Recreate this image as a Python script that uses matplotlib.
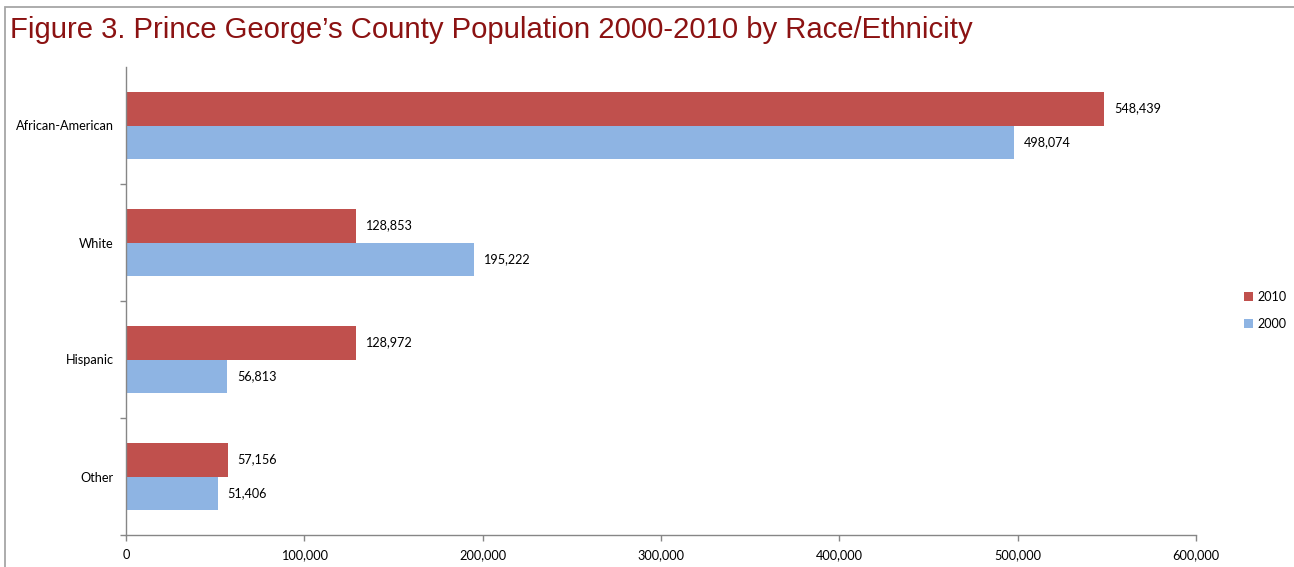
import matplotlib.pyplot as plt
import numpy as np
from matplotlib.patches import Rectangle
from matplotlib.ticker import FuncFormatter

# Population by race/ethnicity, Prince George's County
groups = ["African-American", "White", "Hispanic", "Other"]
pop_2010 = [548439, 128853, 128972, 57156]
pop_2000 = [498074, 195222, 56813, 51406]
x_ticks = [0, 100000, 200000, 300000, 400000, 500000, 600000]

red = "#C0504D"
blue = "#8EB4E3"
axis_gray = "#868686"
label_font = ["Lato", "DejaVu Sans"]

plt.rcParams["font.family"] = label_font

fig = plt.figure(figsize=(12.94, 5.67), dpi=100)
ax = fig.add_axes([126 / 1294, 1 - 535 / 567, 1070 / 1294, 468 / 567])

# Categories run top to bottom
pos = np.arange(len(groups))[::-1].astype(float)
bar_h = 0.288

bars_2010 = ax.barh(pos + bar_h / 2, pop_2010, height=bar_h, color=red, label="2010")
bars_2000 = ax.barh(pos - bar_h / 2, pop_2000, height=bar_h, color=blue, label="2000")

for bars, vals in ((bars_2010, pop_2010), (bars_2000, pop_2000)):
    for b, v in zip(bars, vals):
        ax.annotate(
            f"{v:,}",
            (v, b.get_y() + b.get_height() / 2),
            xytext=(7, 0),
            textcoords="offset points",
            va="center",
            ha="left",
            fontsize=9.1,
        )

ax.set_xlim(0, 600000)
ax.set_ylim(-0.5, len(groups) - 0.5)
ax.set_xticks(x_ticks)
ax.xaxis.set_major_formatter(FuncFormatter(lambda v, _: f"{int(v):,}"))
ax.set_yticks(pos)
ax.set_yticklabels(groups)
# group separators, none at the very top
ax.set_yticks(np.arange(-0.5, len(groups) - 1, 1.0), minor=True)

ax.tick_params(axis="y", which="major", length=0, pad=9, labelsize=9.2)
ax.tick_params(axis="y", which="minor", length=4, color=axis_gray, width=1)
ax.tick_params(axis="x", length=4, color=axis_gray, width=1, pad=6, labelsize=9.2)

for side in ("top", "right"):
    ax.spines[side].set_visible(False)
for side in ("left", "bottom"):
    ax.spines[side].set_color(axis_gray)
    ax.spines[side].set_linewidth(1)

leg = fig.legend(
    handles=[bars_2010, bars_2000],
    loc="center left",
    bbox_to_anchor=(1233 / 1294, 1 - 310.5 / 567),
    frameon=False,
    fontsize=9.1,
    handlelength=0.7,
    handleheight=0.7,
    handletextpad=0.35,
    labelspacing=1.2,
)

fig.text(
    10 / 1294,
    1 - 30 / 567,
    "Figure 3. Prince George\u2019s County Population 2000-2010 by Race/Ethnicity",
    family=["Liberation Sans", "DejaVu Sans"],
    fontsize=21.1,
    color="#8B1212",
    va="center",
    ha="left",
)

# Frame around the chart area
fig.patches.append(
    Rectangle(
        (5 / 1294, -0.2),
        2.0,
        1.2 - 7 / 567,
        transform=fig.transFigure,
        fill=False,
        edgecolor="#A6A6A6",
        linewidth=1.3,
        clip_on=False,
    )
)

fig.savefig("out.png", dpi=100)
